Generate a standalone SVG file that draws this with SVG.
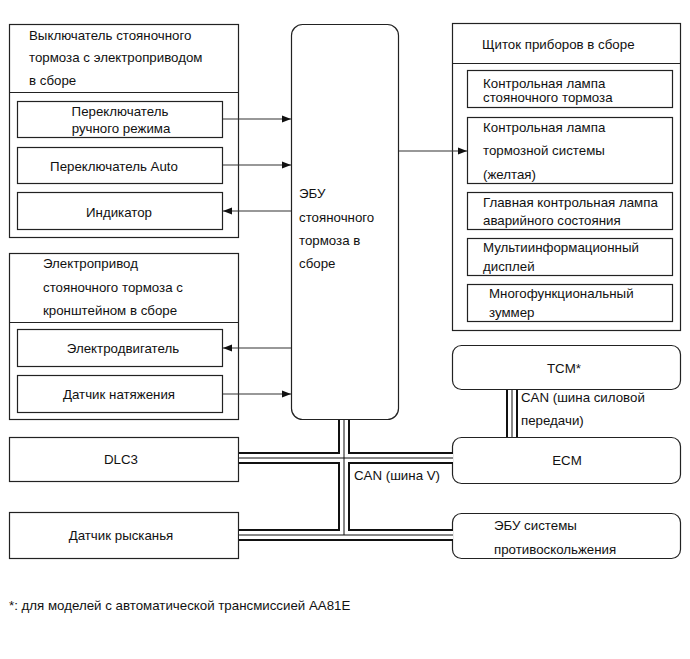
<svg xmlns="http://www.w3.org/2000/svg" width="690" height="659" viewBox="0 0 690 659">
<style>
text{font-family:"Liberation Sans",Arial,sans-serif;font-size:13.3px;fill:#111}
.c{text-anchor:middle}
.b{fill:#fff;stroke:#222;stroke-width:1.2}
.a{stroke:#333;stroke-width:1.2;fill:none}
.bk{stroke:#111;stroke-width:12;fill:none}
.wh{stroke:#fff;stroke-width:8;fill:none}
.ct{stroke:#111;stroke-width:1;fill:none}
</style>
<defs>
<marker id="ah" markerWidth="10" markerHeight="8" refX="9" refY="4" orient="auto" markerUnits="userSpaceOnUse">
<path d="M0,0.5 L9,4 L0,7.5 Z" fill="#111"/>
</marker>
</defs>
<rect width="690" height="659" fill="#fff"/>

<g id="switch-assy">
<rect class="b" x="9.5" y="24.5" width="229" height="213"/>
<line class="b" x1="9.5" y1="92.5" x2="238.5" y2="92.5"/>
<text x="29" y="40">Выключатель стояночного</text>
<text x="29" y="62">тормоза с электроприводом</text>
<text x="29" y="85">в сборе</text>
<rect class="b" x="17.5" y="101.5" width="205" height="36"/>
<text class="c" x="120" y="115.5">Переключатель</text>
<text class="c" x="121" y="132.5">ручного режима</text>
<rect class="b" x="17.5" y="147.5" width="205" height="36"/>
<text class="c" x="114" y="170.5">Переключатель Auto</text>
<rect class="b" x="17.5" y="192.5" width="205" height="37"/>
<text class="c" x="119" y="216.5">Индикатор</text>
</g>

<g id="actuator-assy">
<rect class="b" x="9.5" y="253.5" width="229" height="166"/>
<line class="b" x1="9.5" y1="322.5" x2="238.5" y2="322.5"/>
<text x="43" y="268">Электропривод</text>
<text x="43" y="291.5">стояночного тормоза с</text>
<text x="43" y="314.5">кронштейном в сборе</text>
<rect class="b" x="17.5" y="329.5" width="205" height="37"/>
<text class="c" x="123" y="352.5">Электродвигатель</text>
<rect class="b" x="17.5" y="375.5" width="205" height="37"/>
<text class="c" x="119" y="398.5">Датчик натяжения</text>
</g>

<g id="ecu">
<rect class="b" x="291.5" y="24.5" width="107" height="395" rx="11"/>
<text x="299" y="197.5">ЭБУ</text>
<text x="299" y="221.5">стояночного</text>
<text x="299" y="244.5">тормоза в</text>
<text x="299" y="267.5">сборе</text>
</g>

<g id="combination-meter">
<rect class="b" x="452.5" y="23.5" width="228" height="307"/>
<line class="b" x1="452.5" y1="63.5" x2="680.5" y2="63.5"/>
<text x="482" y="48.5">Щиток приборов в сборе</text>
<rect class="b" x="467.5" y="70.5" width="205" height="37"/>
<text x="483" y="87.5">Контрольная лампа</text>
<text x="483" y="101.5">стояночного тормоза</text>
<rect class="b" x="467.5" y="117.5" width="205" height="66"/>
<text x="483" y="131.5">Контрольная лампа</text>
<text x="483" y="154.5">тормозной системы</text>
<text x="483" y="178.5">(желтая)</text>
<rect class="b" x="467.5" y="192.5" width="205" height="37"/>
<text x="483" y="206.5">Главная контрольная лампа</text>
<text x="483" y="224.5">аварийного состояния</text>
<rect class="b" x="467.5" y="238.5" width="205" height="37"/>
<text x="483" y="251.5">Мультиинформационный</text>
<text x="483" y="270.5">дисплей</text>
<rect class="b" x="467.5" y="284.5" width="205" height="37"/>
<text x="489" y="297.5">Многофункциональный</text>
<text x="489" y="316.5">зуммер</text>
</g>

<g id="tcm">
<rect class="b" x="452.5" y="345.5" width="228" height="44" rx="9"/>
<text class="c" x="564" y="372.5">TCM*</text>
</g>

<g id="ecm">
<rect class="b" x="452.5" y="437.5" width="228" height="46" rx="9"/>
<text class="c" x="567" y="464.5">ECM</text>
</g>

<g id="skid-ecu">
<rect class="b" x="452.5" y="513.5" width="228" height="45" rx="9"/>
<text x="494" y="529.5">ЭБУ системы</text>
<text x="494" y="553.5">противоскольжения</text>
</g>

<g id="dlc3">
<rect class="b" x="9.5" y="437.5" width="229" height="44"/>
<text class="c" x="121" y="463.5">DLC3</text>
</g>

<g id="yaw-sensor">
<rect class="b" x="9.5" y="512.5" width="229" height="46"/>
<text class="c" x="121" y="539.5">Датчик рысканья</text>
</g>

<g id="connectors">
<line class="a" x1="223" y1="119" x2="291" y2="119" marker-end="url(#ah)"/>
<line class="a" x1="223" y1="165" x2="291" y2="165" marker-end="url(#ah)"/>
<line class="a" x1="291" y1="211" x2="223" y2="211" marker-end="url(#ah)"/>
<line class="a" x1="291" y1="348" x2="223" y2="348" marker-end="url(#ah)"/>
<line class="a" x1="223" y1="394" x2="291" y2="394" marker-end="url(#ah)"/>
<line class="a" x1="399" y1="151" x2="467" y2="151" marker-end="url(#ah)"/>

<path class="bk" d="M344,420 V535 M239,458 H453 M239,535 H453 M512,390 V437"/>
<path class="wh" d="M344,420 V535 M239,458 H453 M239,535 H453 M512,390 V437"/>
<path class="ct" d="M344,420 V535 M239,458 H453 M239,535 H453 M512,390 V437"/>
<text x="354" y="480">CAN (шина V)</text>
<text x="521" y="402">CAN (шина силовой</text>
<text x="521" y="425">передачи)</text>
</g>

<text x="9" y="610">*: для моделей с автоматической трансмиссией AA81E</text>
</svg>
